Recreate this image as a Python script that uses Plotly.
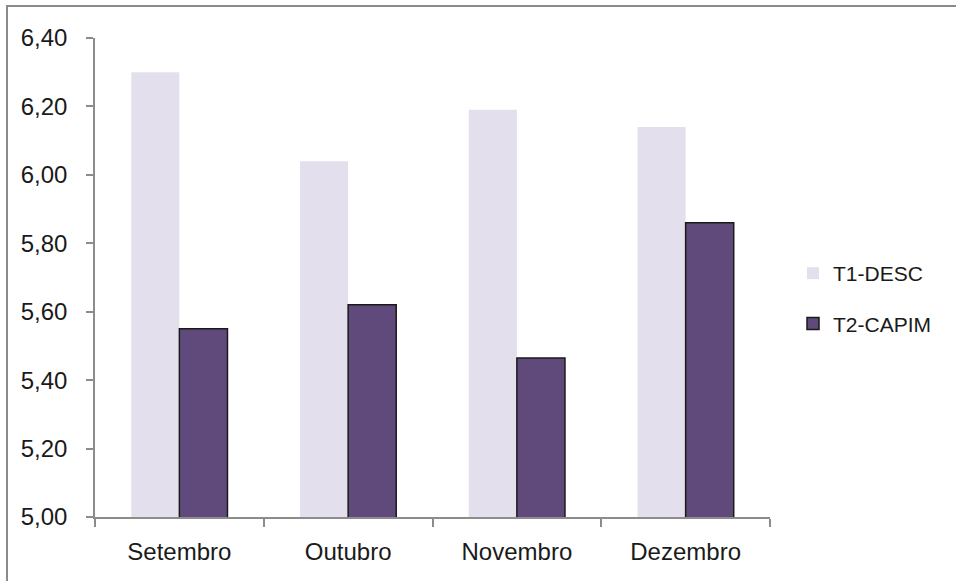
import plotly.graph_objects as go

# Monthly values for the two treatments
months = ["Setembro", "Outubro", "Novembro", "Dezembro"]
t1_desc = [6.30, 6.04, 6.19, 6.14]
t2_capim = [5.55, 5.62, 5.465, 5.86]
y_ticks = [5.0, 5.2, 5.4, 5.6, 5.8, 6.0, 6.2, 6.4]

W, H = 956, 581
L, R, T, B = 95, 186, 38, 64
pw, ph = W - L - R, H - T - B

FONT = "Liberation Sans"
TXT = "#1a1a1a"
AX = "#8c8c8c"

fig = go.Figure()
fig.add_trace(go.Bar(
    name="T1-DESC", x=months, y=t1_desc, legendgroup="a",
    marker=dict(color="#E4DFEC", line=dict(width=0)),
))
fig.add_trace(go.Bar(
    name="T2-CAPIM", x=months, y=t2_capim, legendgroup="b",
    marker=dict(color="#604A7B", line=dict(color="#1a1a1a", width=1.5)),
))

# outer frame around the chart, in paper units (right/bottom edges run off the page)
def px_x(p):
    return (p - L) / pw

def px_y(p):
    return (H - B - p) / ph

fig.add_shape(type="rect", xref="paper", yref="paper",
              x0=px_x(7), x1=px_x(980), y0=px_y(6), y1=px_y(610),
              line=dict(color="#8a8a8a", width=2), fillcolor="rgba(0,0,0,0)",
              layer="below")

fig.update_layout(
    width=W, height=H,
    margin=dict(l=L, r=R, t=T, b=B),
    paper_bgcolor="white", plot_bgcolor="white",
    separators=", ",
    barmode="group", bargap=0.43, bargroupgap=0,
    font=dict(family=FONT, color=TXT, size=24),
    showlegend=True,
    legend=dict(
        x=px_x(793), xanchor="left", y=px_y(253), yanchor="top",
        font=dict(size=21, family=FONT, color=TXT),
        traceorder="grouped", tracegroupgap=20,
        bgcolor="rgba(0,0,0,0)",
    ),
    xaxis=dict(
        type="category", tickson="boundaries",
        showline=True, linecolor=AX, linewidth=1.5,
        ticks="outside", ticklen=8, tickcolor=AX, tickwidth=1.5,
        showgrid=False, zeroline=False,
        tickfont=dict(size=24, family=FONT, color=TXT),
        ticklabelstandoff=12,
    ),
    yaxis=dict(
        range=[5.0, 6.4], tickvals=y_ticks, tickformat=".2f",
        showline=True, linecolor=AX, linewidth=1.5,
        ticks="outside", ticklen=7, tickcolor=AX, tickwidth=1.5,
        showgrid=False, zeroline=False,
        tickfont=dict(size=24, family=FONT, color=TXT),
        ticklabelstandoff=14,
    ),
)

fig.write_html("out.html")
